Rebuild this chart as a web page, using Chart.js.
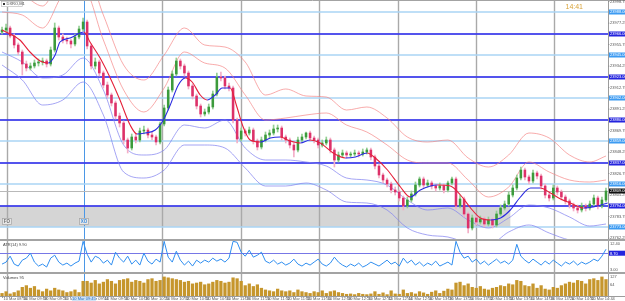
<!DOCTYPE html>
<html><head><meta charset="utf-8">
<script src="https://cdn.jsdelivr.net/npm/chart.js@4.4.1/dist/chart.umd.min.js"></script>
<style>
html,body{margin:0;padding:0;background:#fff;width:625px;height:301px;overflow:hidden}
#wrap{position:relative;width:625px;height:301px;background:#fff}
canvas{position:absolute;left:0}
.sep{position:absolute;left:0;width:625px;background:#a3a3a3}
</style></head><body><div id="wrap">
<canvas id="cMain" width="625" height="239" style="top:0;width:625px;height:239px"></canvas>
<div class="sep" style="top:239px;height:2px"></div>
<canvas id="cAtr" width="625" height="31" style="top:241px;width:625px;height:31px"></canvas>
<div class="sep" style="top:272px;height:2px"></div>
<canvas id="cVol" width="625" height="27" style="top:274px;width:625px;height:27px"></canvas>
</div>
<script>
// ---------- DATA ----------
const symbolTitle = 'DXRO,M1';
const clockText = '14:41';
const opens = [23968,23970,23972,23964,23955,23948,23936,23932,23934,23937,
23938,23939,23936,23950,23972,23963,23960,23959,23956,23963,
23971,23978,23954,23934,23938,23927,23915,23905,23897,23884,
23877,23860,23852,23863,23860,23869,23870,23865,23863,23858,
23876,23892,23910,23926,23939,23934,23927,23914,23904,23894,
23886,23888,23893,23906,23923,23922,23914,23912,23880,23861,
23869,23867,23870,23859,23853,23860,23865,23867,23871,23872,
23863,23860,23855,23850,23860,23863,23867,23862,23860,23855,
23857,23860,23850,23840,23845,23847,23845,23846,23847,23846,
23848,23850,23843,23834,23825,23820,23816,23810,23808,23802,
23794,23800,23806,23815,23821,23815,23817,23814,23812,23814,
23810,23817,23821,23794,23801,23786,23772,23782,23778,23781,
23776,23780,23775,23786,23792,23796,23805,23812,23822,23830,
23823,23819,23827,23824,23814,23805,23802,23812,23808,23803,
23799,23795,23792,23790,23794,23792,23796,23802,23794,23800];
const closes = [23970,23972,23964,23955,23948,23936,23932,23934,23937,23938,
23939,23936,23950,23972,23963,23960,23959,23956,23963,23971,
23978,23954,23934,23938,23927,23915,23905,23897,23884,23877,
23860,23852,23863,23860,23869,23870,23865,23863,23858,23876,
23892,23910,23926,23939,23934,23927,23914,23904,23894,23886,
23888,23893,23906,23923,23922,23914,23912,23880,23861,23869,
23867,23870,23859,23853,23860,23865,23867,23871,23872,23863,
23860,23855,23850,23860,23863,23867,23862,23860,23855,23857,
23860,23850,23840,23845,23847,23845,23846,23847,23846,23848,
23850,23843,23834,23825,23820,23816,23810,23808,23802,23794,
23800,23806,23815,23821,23815,23817,23814,23812,23814,23810,
23817,23821,23794,23801,23786,23772,23782,23778,23781,23776,
23780,23775,23786,23792,23796,23805,23812,23822,23830,23823,
23819,23827,23824,23814,23805,23802,23812,23808,23803,23799,
23795,23792,23790,23794,23792,23796,23802,23794,23800,23809];
const highs = [23973,23976,23974,23966,23957,23950,23939,23937,23940,23941,
23942,23941,23953,23977,23974,23966,23963,23961,23966,23974,
23982,23980,23956,23942,23940,23929,23918,23907,23899,23887,
23879,23862,23866,23866,23872,23874,23872,23868,23865,23878,
23895,23913,23929,23942,23941,23936,23929,23916,23906,23896,
23891,23896,23909,23927,23928,23924,23917,23914,23882,23872,
23871,23873,23872,23861,23863,23868,23870,23875,23875,23874,
23865,23862,23857,23863,23866,23868,23869,23864,23862,23860,
23863,23862,23852,23848,23850,23849,23848,23850,23849,23851,
23852,23852,23845,23836,23827,23822,23818,23813,23810,23804,
23803,23809,23818,23823,23823,23820,23819,23816,23817,23816,
23819,23823,23823,23805,23803,23788,23785,23784,23784,23783,
23783,23782,23789,23795,23799,23808,23815,23825,23833,23832,
23825,23830,23829,23826,23816,23807,23815,23814,23810,23805,
23801,23797,23795,23797,23796,23799,23805,23804,23803,23812];
const lows = [23966,23968,23962,23952,23945,23925,23929,23930,23932,23934,
23935,23933,23934,23948,23960,23957,23956,23952,23954,23961,
23969,23951,23931,23931,23924,23912,23902,23894,23881,23873,
23856,23847,23850,23857,23858,23866,23862,23860,23855,23856,
23874,23890,23908,23924,23931,23924,23911,23901,23891,23883,
23884,23886,23891,23904,23919,23911,23909,23877,23857,23859,
23864,23865,23856,23850,23851,23858,23862,23865,23868,23860,
23857,23852,23843,23848,23858,23861,23859,23857,23852,23853,
23855,23847,23833,23838,23843,23842,23843,23844,23843,23844,
23846,23840,23831,23822,23817,23813,23807,23805,23799,23790,
23792,23798,23804,23813,23812,23813,23811,23809,23810,23807,
23808,23815,23791,23792,23783,23767,23770,23775,23776,23773,
23774,23772,23773,23784,23790,23794,23803,23810,23820,23820,
23816,23817,23821,23811,23802,23799,23800,23805,23800,23796,
23792,23789,23787,23788,23789,23790,23794,23791,23792,23798];
// moving average (read at sample candle positions)
const maIdx = [0,4.4,6.9,9.4,11.4,13.1,14.3,16.8,20.2,21.7,24.2,26.7,29.1,31.6,33.3,35.3,37.8,39.8,41.5,43.5,45.2,46.9,48.9,50.6,52.6,54.3,56.3,57.8,59.5,61.2,63.7,66.2,68.6,71.1,73.6,76,78.5,81.7,84.7,87.2,90.1,92.1,95.1,98.3,100.7,103.2,107.4,110.6,113.1,115.6,118,120.5,123,125.4,127.9,130.4,132.8,135.3,137.8,140.2,143.5,146.9,149.4];
const maVals = [23970,23960,23948,23939,23937,23945,23958,23962,23968,23958,23942,23922,23900,23875,23866,23867,23870,23880,23895,23915,23922,23918,23905,23900,23905,23912,23912,23895,23873,23860,23858,23862,23863,23859,23857,23860,23857,23847,23842,23843,23847,23842,23830,23813,23803,23810,23815,23814,23805,23792,23782,23780,23782,23790,23803,23812,23812,23807,23801,23797,23792,23794,23797];
// envelope bands (read at every 5th candle)
const bandIdx = [0,5,10,15,20,25,30,35,40,45,50,55,60,65,70,75,80,85,90,95,100,105,110,115,120,125,130,135,140,145,149];
const upperOuter = [24008,24005,23994,24028,24035,23985,23935,23920,23945,23972,23955,23953,23938,23905,23911,23904,23903,23890,23893,23882,23863,23858,23860,23842,23833,23845,23867,23862,23845,23838,23844];
const upperInner = [23988,23985,23972,24005,24012,23960,23910,23888,23912,23948,23937,23932,23905,23880,23882,23885,23887,23875,23868,23855,23840,23837,23837,23820,23803,23813,23838,23828,23820,23818,23820];
const lowerInner = [23948,23938,23922,23925,23942,23910,23855,23845,23850,23875,23872,23880,23852,23840,23840,23838,23834,23822,23820,23815,23800,23790,23792,23780,23772,23782,23795,23792,23783,23774,23776];
const lowerOuter = [23935,23920,23895,23900,23918,23885,23828,23822,23830,23855,23855,23852,23832,23814,23814,23817,23810,23798,23797,23790,23772,23765,23763,23757,23755,23768,23775,23767,23760,23758,23760];
// horizontal levels, zone, axis ticks
const darkLevels = [23966,23923,23880,23837,23794];
const lightLevels = [23988,23945,23902,23859,23816,23773];
const priceTicks = [23998.75,23977.25,23955.75,23934.25,23912.75,23891.25,23869.75,23848.25,23826.75,23805.25,23783.75,23762.25];
const zonePrices = [23773,23794];
const zoneSpan = [-0.5,125.4];
const zoneTags = ['FO','XO'];
// period separators (candle positions) and the marked bar
const sepIdx = [1.2,39.5,59,78.3,97.8,117,136.3];
const markerIdx = 20.2;
// ATR(14)
const atr = [5.4,6.0,7.8,5.4,4.8,6.6,7.2,8.7,6.0,4.8,
5.4,4.5,7.2,8.1,6.0,5.1,5.7,4.8,5.7,6.3,
12.3,8.4,6.0,7.8,7.2,5.7,6.6,5.1,9.0,7.2,
6.0,7.8,5.4,6.6,5.1,8.7,6.3,5.4,6.9,6.0,
12.3,7.5,6.0,9.3,6.6,5.1,6.3,4.8,6.6,5.7,
6.6,6.0,7.2,6.3,6.9,6.0,7.2,12.3,12.0,9.0,
7.8,9.6,7.5,8.1,9.0,6.3,5.7,6.6,5.4,6.0,
5.1,5.7,6.9,5.4,4.8,5.7,5.1,6.0,6.9,5.4,
4.8,5.7,7.5,6.0,5.1,4.5,5.4,4.8,5.7,4.5,
5.1,6.0,5.4,4.8,5.7,6.6,5.4,6.0,4.8,7.2,
5.7,6.6,5.1,6.0,4.8,5.7,5.1,6.3,4.8,5.4,
6.0,5.1,12.3,9.0,7.2,7.8,6.0,6.9,5.4,6.3,
5.1,6.0,6.9,5.7,6.3,5.4,6.6,11.4,7.8,6.6,
5.7,6.9,6.0,5.1,6.3,5.4,6.6,5.7,4.8,6.0,
5.4,6.3,5.1,6.0,5.4,6.0,6.9,6.3,7.8,9.9];
const atrLevel = [8.7];
const atrRange = [3.0,12.4];
// Volumes
const volumes = [15,25,12,20,30,50,60,45,55,35,
25,40,30,45,35,30,20,25,35,20,
85,85,75,90,70,80,95,85,70,90,
95,100,80,90,85,75,95,100,85,90,
110,105,100,95,90,80,85,70,75,80,
65,70,80,90,85,75,80,105,100,85,
60,70,55,65,45,35,30,25,40,30,
25,30,20,35,25,20,15,25,20,30,
15,25,30,20,15,10,12,8,15,10,
8,12,25,10,18,8,30,12,10,35,
15,20,12,25,18,10,22,30,15,28,
40,35,75,80,60,70,50,45,55,40,
35,45,50,60,55,70,65,90,85,60,
55,70,45,60,40,35,50,45,60,70,
80,75,90,85,70,95,100,90,110,95];
const volTicks = [127,64];
// time axis
const timeLabels = ['10 Mar 08:56','10 Mar 09:08','10 Mar 09:20','10 Mar 09:32','10 Mar 09:44','10 Mar 09:56','10 Mar 10:08','10 Mar 10:20','10 Mar 10:32','10 Mar 10:44','10 Mar 10:56','10 Mar 11:08','10 Mar 11:20','10 Mar 11:32','10 Mar 11:44','10 Mar 11:56','10 Mar 12:08','10 Mar 12:20','10 Mar 12:32','10 Mar 12:44','10 Mar 12:56','10 Mar 13:08','10 Mar 13:20','10 Mar 13:32','10 Mar 13:44','10 Mar 13:56','10 Mar 14:08','10 Mar 14:20','10 Mar 14:32','10 Mar 14:44'];
const timeStep = 5;
const markerTime = '10 Mar 09:45';

// ---------- STYLE ----------
const AXW = 17;
const FONT = '"Liberation Sans", Arial, sans-serif';
const C = {
  bullBody:'#3c9b3c', bullWick:'#93cf93', bearBody:'#dd3169', bearWick:'#f3afc7',
  maUp:'#2b2be0', maDn:'#e5213a', bandUp:'rgba(244,130,130,0.75)', bandDn:'rgba(130,130,240,0.8)',
  dark:'rgba(60,60,235,0.88)', light:'#aad4f5', zone:'#d5d5d5', sep:'#a9a9a9', marker:'#4b97e6',
  atr:'#2f8ef0', atrLvl:'#7777e6', vol:'#c6962c', axisText:'#555'
};
const N = closes.length;
const idx = closes.map((_, i) => i);
const xScale = {type:'linear', min:-0.5, max:N-0.5, display:false, offset:false};

function vlines(chart){
  const {ctx, scales:{x}} = chart;
  ctx.save();
  ctx.strokeStyle = C.sep; ctx.lineWidth = 1.4;
  sepIdx.forEach(v => { const p = Math.round(x.getPixelForValue(v)) + 0.5; ctx.beginPath(); ctx.moveTo(p, 0); ctx.lineTo(p, chart.height); ctx.stroke(); });
  ctx.strokeStyle = C.marker; ctx.lineWidth = 1;
  const m = Math.round(x.getPixelForValue(markerIdx)) + 0.5;
  ctx.beginPath(); ctx.moveTo(m, 0); ctx.lineTo(m, chart.height); ctx.stroke();
  ctx.restore();
}
function axisBorder(chart){
  const {ctx, chartArea:ca} = chart;
  ctx.save(); ctx.fillStyle = '#fff'; ctx.fillRect(ca.right, 0, chart.width - ca.right, chart.height);
  ctx.strokeStyle = '#9c9c9c'; ctx.lineWidth = 1;
  ctx.beginPath(); ctx.moveTo(ca.right + 0.5, 0); ctx.lineTo(ca.right + 0.5, chart.height); ctx.stroke();
  ctx.restore();
}
function tagLabel(ctx, x, y, text, bg, fg){
  ctx.fillStyle = bg; ctx.fillRect(x, y - 2.5, AXW - 1, 5);
  ctx.fillStyle = fg; ctx.fillText(text, x + 1, y + 0.2);
}

// ---------- MAIN ----------
const mainPlugin = {
  id:'mainDeco',
  beforeDatasetsDraw(chart){
    const {ctx, chartArea:ca, scales:{x, y}} = chart;
    ctx.save();
    const zx0 = x.getPixelForValue(zoneSpan[0]), zx1 = x.getPixelForValue(zoneSpan[1]);
    const zy0 = y.getPixelForValue(zonePrices[1]), zy1 = y.getPixelForValue(zonePrices[0]);
    ctx.fillStyle = C.zone; ctx.fillRect(zx0, zy0, zx1 - zx0, zy1 - zy0);
    vlines(chart);
    ctx.lineWidth = 1.5; ctx.strokeStyle = C.light;
    lightLevels.forEach(v => { const p = y.getPixelForValue(v); ctx.beginPath(); ctx.moveTo(ca.left, p); ctx.lineTo(ca.right, p); ctx.stroke(); });
    ctx.lineWidth = 2; ctx.strokeStyle = C.dark;
    darkLevels.forEach(v => { const p = y.getPixelForValue(v); ctx.beginPath(); ctx.moveTo(ca.left, p); ctx.lineTo(ca.right, p); ctx.stroke(); });
    const last = closes[N - 1];
    const lp = Math.round(y.getPixelForValue(last)) + 0.5;
    ctx.lineWidth = 1; ctx.strokeStyle = '#b9b9b9';
    ctx.beginPath(); ctx.moveTo(ca.left, lp); ctx.lineTo(ca.right, lp); ctx.stroke();
    ctx.restore();
  },
  afterDraw(chart){
    const {ctx, chartArea:ca, scales:{x, y}} = chart;
    axisBorder(chart);
    ctx.save();
    ctx.strokeStyle = '#a3a3a3'; ctx.lineWidth = 1;
    ctx.beginPath(); ctx.moveTo(0, 0.5); ctx.lineTo(chart.width, 0.5); ctx.stroke();
    ctx.font = '4px ' + FONT; ctx.textBaseline = 'middle'; ctx.textAlign = 'left';
    priceTicks.forEach(v => {
      const p = y.getPixelForValue(v);
      ctx.fillStyle = '#888'; ctx.fillRect(ca.right, p, 1.5, 0.7);
      ctx.fillStyle = C.axisText; ctx.fillText(v.toFixed(2), ca.right + 2, p + 0.2);
    });
    lightLevels.forEach(v => tagLabel(ctx, ca.right + 1, y.getPixelForValue(v), v.toFixed(2), '#3d9bf2', '#fff'));
    darkLevels.forEach(v => tagLabel(ctx, ca.right + 1, y.getPixelForValue(v), v.toFixed(2), '#2424de', '#fff'));
    const last = closes[N - 1];
    tagLabel(ctx, ca.right + 1, y.getPixelForValue(last), last.toFixed(2), '#111', '#fff');
    // zone tags on the separator lines
    const tagY = y.getPixelForValue(zonePrices[0]) - 6;
    [[sepIdx[0], zoneTags[0], '#6f6f6f'], [markerIdx, zoneTags[1], '#3f8fe0']].forEach(([v, t, col]) => {
      const px = x.getPixelForValue(v);
      const bx = Math.max(1, px - 5);
      ctx.fillStyle = '#e6e6e6'; ctx.fillRect(bx, tagY - 3, 10, 7);
      ctx.strokeStyle = '#a8a8a8'; ctx.lineWidth = 0.8; ctx.strokeRect(bx + 0.5, tagY - 2.5, 9, 6);
      ctx.fillStyle = col; ctx.font = 'bold 4.5px ' + FONT; ctx.textAlign = 'center';
      ctx.fillText(t, bx + 5, tagY + 0.6);
    });
    // title box
    ctx.textAlign = 'left'; ctx.font = '4px ' + FONT;
    ctx.fillStyle = '#fff'; ctx.fillRect(1, 1, 22, 6);
    ctx.strokeStyle = '#b5b5b5'; ctx.lineWidth = 0.6; ctx.strokeRect(1.5, 1.5, 21, 5);
    ctx.fillStyle = '#333'; ctx.fillRect(3, 3, 2, 2);
    ctx.fillStyle = '#444'; ctx.fillText(symbolTitle, 6.5, 4.2);
    // clock
    ctx.fillStyle = '#d9a43a'; ctx.font = '7px ' + FONT; ctx.textAlign = 'right';
    ctx.fillText(clockText, 583, 7.5);
    ctx.restore();
  }
};

new Chart(document.getElementById('cMain'), {
  type:'bar',
  data:{ datasets:[
    {type:'line', data:bandIdx.map((v,k)=>({x:v, y:upperOuter[k]})), borderColor:C.bandUp, borderWidth:0.9, pointRadius:0, cubicInterpolationMode:'monotone', order:6},
    {type:'line', data:bandIdx.map((v,k)=>({x:v, y:upperInner[k]})), borderColor:C.bandUp, borderWidth:0.9, pointRadius:0, cubicInterpolationMode:'monotone', order:6},
    {type:'line', data:bandIdx.map((v,k)=>({x:v, y:lowerInner[k]})), borderColor:C.bandDn, borderWidth:0.9, pointRadius:0, cubicInterpolationMode:'monotone', order:6},
    {type:'line', data:bandIdx.map((v,k)=>({x:v, y:lowerOuter[k]})), borderColor:C.bandDn, borderWidth:0.9, pointRadius:0, cubicInterpolationMode:'monotone', order:6},
    {type:'bar', data:idx.map(i=>({x:i, y:[lows[i], highs[i]]})), backgroundColor:idx.map(i=>closes[i]>=opens[i]?C.bullWick:C.bearWick), barThickness:1, grouped:false, order:4},
    {type:'bar', data:idx.map(i=>({x:i, y:[opens[i], closes[i]]})), backgroundColor:idx.map(i=>closes[i]>=opens[i]?C.bullBody:C.bearBody), barThickness:1.9, minBarLength:1, grouped:false, order:3},
    {type:'line', data:maIdx.map((v,k)=>({x:v, y:maVals[k]})), borderWidth:1.1, pointRadius:0, cubicInterpolationMode:'monotone', order:1,
      segment:{borderColor:c => c.p1.parsed.y >= c.p0.parsed.y ? C.maUp : C.maDn}}
  ]},
  options:{
    responsive:false, devicePixelRatio:1, animation:false, events:[],
    layout:{padding:{left:0, right:AXW, top:0, bottom:0}},
    plugins:{legend:{display:false}, tooltip:{enabled:false}},
    scales:{ x:xScale, y:{type:'linear', min:23761, max:24000, display:false, beginAtZero:false} }
  },
  plugins:[mainPlugin]
});

// ---------- ATR ----------
new Chart(document.getElementById('cAtr'), {
  type:'line',
  data:{ datasets:[{data:idx.map(i=>({x:i, y:atr[i]})), borderColor:C.atr, borderWidth:1, pointRadius:0, tension:0}]},
  options:{
    responsive:false, devicePixelRatio:1, animation:false, events:[],
    layout:{padding:{left:0, right:AXW, top:0, bottom:0}},
    plugins:{legend:{display:false}, tooltip:{enabled:false}},
    scales:{ x:xScale, y:{type:'linear', min:atrRange[0], max:atrRange[1], display:false} }
  },
  plugins:[{
    id:'atrDeco',
    beforeDatasetsDraw(chart){
      const {ctx, chartArea:ca, scales:{y}} = chart;
      vlines(chart);
      ctx.save(); ctx.strokeStyle = C.atrLvl; ctx.lineWidth = 1;
      atrLevel.forEach(v => { const p = Math.round(y.getPixelForValue(v)) + 0.5; ctx.beginPath(); ctx.moveTo(ca.left, p); ctx.lineTo(ca.right, p); ctx.stroke(); });
      ctx.restore();
    },
    afterDraw(chart){
      const {ctx, chartArea:ca, scales:{y}} = chart;
      axisBorder(chart);
      ctx.save(); ctx.font = '4px ' + FONT; ctx.textBaseline = 'middle'; ctx.textAlign = 'left';
      ctx.fillStyle = C.axisText;
      ctx.fillText(atrRange[1].toFixed(2), ca.right + 2, 2.5);
      ctx.fillText(atrRange[0].toFixed(2), ca.right + 2, ca.bottom - 2.5);
      atrLevel.forEach(v => tagLabel(ctx, ca.right + 1, y.getPixelForValue(v), v.toFixed(2), '#2424de', '#fff'));
      ctx.fillStyle = '#444'; ctx.fillText('ATR(14) ' + atr[N - 1].toFixed(2), 3, 3.5);
      ctx.restore();
    }
  }]
});

// ---------- VOLUMES ----------
new Chart(document.getElementById('cVol'), {
  type:'bar',
  data:{ datasets:[{data:idx.map(i=>({x:i, y:volumes[i]})), backgroundColor:C.vol, barThickness:2.6, grouped:false}]},
  options:{
    responsive:false, devicePixelRatio:1, animation:false, events:[],
    layout:{padding:{left:0, right:AXW, top:0, bottom:5}},
    plugins:{legend:{display:false}, tooltip:{enabled:false}},
    scales:{ x:xScale, y:{type:'linear', min:0, max:127, display:false, beginAtZero:true} }
  },
  plugins:[{
    id:'volDeco',
    beforeDatasetsDraw(chart){ vlines(chart); },
    afterDraw(chart){
      const {ctx, chartArea:ca, scales:{x, y}} = chart;
      axisBorder(chart);
      ctx.save();
      ctx.fillStyle = '#fff'; ctx.fillRect(0, ca.bottom, chart.width, chart.height - ca.bottom);
      ctx.strokeStyle = '#9c9c9c'; ctx.lineWidth = 1;
      ctx.beginPath(); ctx.moveTo(0, ca.bottom + 0.5); ctx.lineTo(chart.width, ca.bottom + 0.5); ctx.stroke();
      ctx.font = '4px ' + FONT; ctx.textBaseline = 'middle'; ctx.textAlign = 'left';
      ctx.fillStyle = C.axisText;
      volTicks.forEach(v => ctx.fillText(String(v), ca.right + 2, Math.min(Math.max(y.getPixelForValue(v), 2.5), ca.bottom - 2.5)));
      ctx.fillStyle = '#444'; ctx.fillText('Volumes ' + volumes[N - 1], 3, 3.5);
      const ty = ca.bottom + 3;
      timeLabels.forEach((t, k) => {
        const px = x.getPixelForValue(k * timeStep);
        ctx.fillStyle = '#888'; ctx.fillRect(Math.round(px), ca.bottom, 0.8, 2);
        ctx.fillStyle = C.axisText; ctx.fillText(t, px + 1.5, ty);
      });
      const mx = x.getPixelForValue(markerIdx);
      ctx.fillStyle = '#cfe3f7'; ctx.fillRect(mx - 12, ca.bottom + 0.5, 24, 4.5);
      ctx.fillStyle = '#2a6fc0'; ctx.textAlign = 'center'; ctx.fillText(markerTime, mx, ty);
      ctx.restore();
    }
  }]
});
</script>
</body></html>
